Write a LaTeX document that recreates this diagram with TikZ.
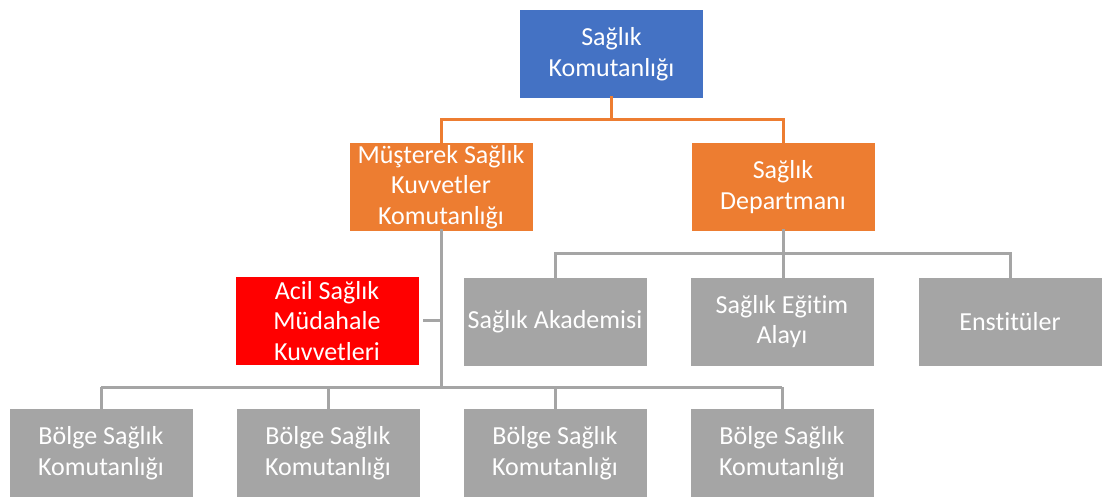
\documentclass[tikz,border=0pt]{standalone}
\usepackage{fontspec}
\setmainfont{Carlito}[Ligatures={NoCommon}]
\definecolor{cblue}{HTML}{4472C4}
\definecolor{corange}{HTML}{ED7D31}
\definecolor{cgray}{HTML}{A5A5A5}
\definecolor{cred}{HTML}{FF0000}
\begin{document}
\begin{tikzpicture}[x=1pt,y=-1pt,
  box/.style={minimum width=184pt,minimum height=89pt,inner sep=2pt,text=white,align=center,
    font=\fontsize{26}{30.5}\selectfont,draw=white,line width=0.6pt},
  bluebox/.style={box,fill=cblue},
  orangebox/.style={box,fill=corange},
  graybox/.style={box,fill=cgray},
  redbox/.style={box,fill=cred},
  oline/.style={draw=corange,line width=3pt},
  gline/.style={draw=cgray,line width=3pt}]
\useasboundingbox (0,0) rectangle (1112,497);
\node[bluebox] (top) at (611.5,54) {Sağlık\\Komutanlığı};
\node[orangebox] (msk) at (441,187) {Müşterek Sağlık\\Kuvvetler\\Komutanlığı};
\node[orangebox] (dep) at (783,187) {Sağlık\\Departmanı};
\node[graybox] (aka) at (555,321.5) {Sağlık Akademisi};
\node[graybox] (egt) at (782,321.5) {Sağlık Eğitim\\Alayı};
\node[graybox] (ens) at (1010,321.5) {Enstitüler};
\node[redbox] (acil) at (327,321) {Acil Sağlık\\Müdahale\\Kuvvetleri};
\node[graybox] (b1) at (101,453) {Bölge Sağlık\\Komutanlığı};
\node[graybox] (b2) at (328,453) {Bölge Sağlık\\Komutanlığı};
\node[graybox] (b3) at (555,453) {Bölge Sağlık\\Komutanlığı};
\node[graybox] (b4) at (782,453) {Bölge Sağlık\\Komutanlığı};
% orange connectors
\coordinate (oy) at (0,120);
\draw[oline] ([yshift=3pt]top.south) -- (top.south |- oy) -| ([yshift=-4pt]msk.north);
\draw[oline] (top.south |- oy) -| ([yshift=-4pt]dep.north);
% gray connectors to second row
\coordinate (gy) at (0,254);
\draw[gline] ([yshift=3pt]dep.south) -- (dep.south |- gy) -| ([yshift=-4pt]aka.north);
\draw[gline] (dep.south |- gy) -| ([yshift=-4pt]ens.north);
\draw[gline] (dep.south |- gy) -- ([yshift=-4pt]egt.north -| dep.south);
% trunk
\coordinate (by) at (0,387);
\draw[gline] ([yshift=3pt]msk.south) -- (msk.south |- by);
\draw[gline] ([xshift=4pt]acil.east) -- (acil.east -| msk.south);
\draw[gline] (b1.north |- by) -- (b4.north |- by);
\foreach \b in {b1,b2,b3,b4}{
  \draw[gline] (\b.north |- by) -- ([yshift=-4pt]\b.north);
}
\end{tikzpicture}
\end{document}
